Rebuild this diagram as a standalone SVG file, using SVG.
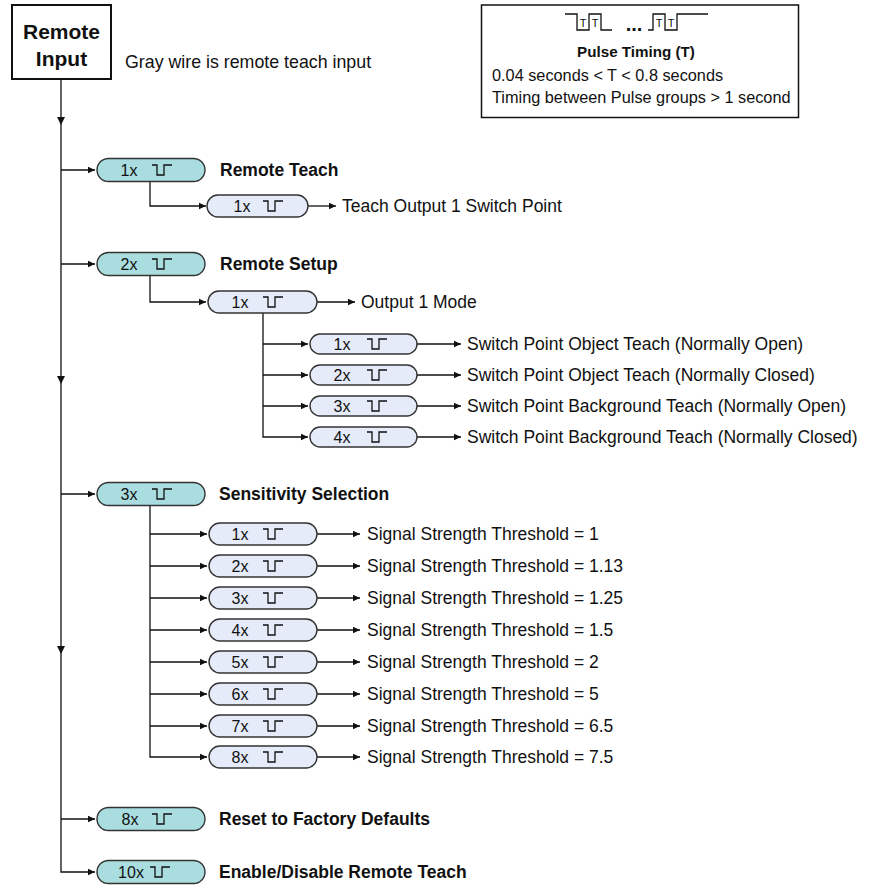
<svg xmlns="http://www.w3.org/2000/svg" width="871" height="886" viewBox="0 0 871 886">
<style>
text{font-family:"Liberation Sans",Arial,sans-serif;fill:#111}
.t{font-size:17.5px}
.b{font-size:17.5px;font-weight:bold}
.p{font-size:16.3px}
.o{font-size:16px;text-anchor:middle}
.teal{fill:#a9dde0;stroke:#333;stroke-width:1.4}
.lite{fill:#e5ebf8;stroke:#333;stroke-width:1.4}
.w{fill:none;stroke:#111;stroke-width:1.3}
.ln{fill:none;stroke:#111;stroke-width:1.3}
.tt{font-size:11px;text-anchor:middle}
</style>
<defs>
<marker id="ah" markerWidth="8" markerHeight="8" refX="7" refY="4" orient="auto" markerUnits="userSpaceOnUse">
<path d="M0,0.8 L7,4 L0,7.2 Z" fill="#111"/>
</marker>
</defs>

<g id="remote-input">
<rect x="12" y="5" width="99" height="74" fill="#fff" stroke="#111" stroke-width="2"/>
<text x="61.5" y="39" text-anchor="middle" style="font-size:21px;font-weight:bold">Remote</text>
<text x="61.5" y="66" text-anchor="middle" style="font-size:21px;font-weight:bold">Input</text>
</g>
<g id="note"><text class="t" x="125" y="68" style="font-size:17.8px">Gray wire is remote teach input</text></g>

<g id="pulse-timing">
<rect x="481.5" y="5" width="317" height="112.5" fill="#fff" stroke="#111" stroke-width="1.5"/>
<path class="w" d="M565,14 H577 V30 H589 V14 H601 V30 H612 M648,30 H653 V14 H665 V30 H677 V14 H708"/>
<text class="tt" x="583" y="27">T</text>
<text class="tt" x="595" y="27">T</text>
<text class="tt" x="659" y="27">T</text>
<text class="tt" x="671" y="27">T</text>
<text x="634" y="31" style="font-size:20px;font-weight:bold;text-anchor:middle">...</text>
<text x="636" y="57" text-anchor="middle" style="font-size:15.2px;font-weight:bold">Pulse Timing (T)</text>
<text class="p" x="492" y="81">0.04 seconds &lt; T &lt; 0.8 seconds</text>
<text class="p" x="492" y="103">Timing between Pulse groups &gt; 1 second</text>
</g>

<g id="connectors">
<path class="ln" d="M61,79 V872 H95" marker-end="url(#ah)"/>
<path d="M57,117 L65,117 L61,125 Z M57,376 L65,376 L61,384 Z M57,646 L65,646 L61,654 Z" fill="#111"/>
<path class="ln" d="M61,170 H95" marker-end="url(#ah)"/>
<path class="ln" d="M61,264 H95" marker-end="url(#ah)"/>
<path class="ln" d="M61,494 H95" marker-end="url(#ah)"/>
<path class="ln" d="M61,819 H95" marker-end="url(#ah)"/>
<path class="ln" d="M150,181.5 V206 H206" marker-end="url(#ah)"/>
<path class="ln" d="M308,206 H336" marker-end="url(#ah)"/>
<path class="ln" d="M150,275.5 V302 H206" marker-end="url(#ah)"/>
<path class="ln" d="M317,302 H355" marker-end="url(#ah)"/>
<path class="ln" d="M263,313 V437 H308" marker-end="url(#ah)"/>
<path class="ln" d="M263,344 H308" marker-end="url(#ah)"/>
<path class="ln" d="M263,375 H308" marker-end="url(#ah)"/>
<path class="ln" d="M263,406 H308" marker-end="url(#ah)"/>
<path class="ln" d="M417,344 H461" marker-end="url(#ah)"/>
<path class="ln" d="M417,375 H461" marker-end="url(#ah)"/>
<path class="ln" d="M417,406 H461" marker-end="url(#ah)"/>
<path class="ln" d="M417,437 H461" marker-end="url(#ah)"/>
<path class="ln" d="M150,505.5 V757 H207" marker-end="url(#ah)"/>
<path class="ln" d="M150,534 H207" marker-end="url(#ah)"/>
<path class="ln" d="M150,566 H207" marker-end="url(#ah)"/>
<path class="ln" d="M150,598 H207" marker-end="url(#ah)"/>
<path class="ln" d="M150,630 H207" marker-end="url(#ah)"/>
<path class="ln" d="M150,662 H207" marker-end="url(#ah)"/>
<path class="ln" d="M150,694 H207" marker-end="url(#ah)"/>
<path class="ln" d="M150,726 H207" marker-end="url(#ah)"/>
<path class="ln" d="M317,534 H360" marker-end="url(#ah)"/>
<path class="ln" d="M317,566 H360" marker-end="url(#ah)"/>
<path class="ln" d="M317,598 H360" marker-end="url(#ah)"/>
<path class="ln" d="M317,630 H360" marker-end="url(#ah)"/>
<path class="ln" d="M317,662 H360" marker-end="url(#ah)"/>
<path class="ln" d="M317,694 H360" marker-end="url(#ah)"/>
<path class="ln" d="M317,726 H360" marker-end="url(#ah)"/>
<path class="ln" d="M317,757 H360" marker-end="url(#ah)"/>
</g>

<g id="remote-teach">
<rect class="teal" x="97" y="158.5" width="108" height="23" rx="11.5"/>
<text class="o" x="129" y="176">1x</text>
<path class="w" d="M152,165 h5 v10 h7 v-10 h8"/>
<text class="b" x="220" y="176">Remote Teach</text>
</g>
<g id="teach-output">
<rect class="lite" x="207" y="195" width="101" height="22" rx="11"/>
<text class="o" x="242" y="212">1x</text>
<path class="w" d="M263,201 h5 v10 h7 v-10 h8"/>
<text class="t" x="342" y="212">Teach Output 1 Switch Point</text>
</g>

<g id="remote-setup">
<rect class="teal" x="97" y="252.5" width="108" height="23" rx="11.5"/>
<text class="o" x="129" y="270">2x</text>
<path class="w" d="M152,259 h5 v10 h7 v-10 h8"/>
<text class="b" x="220" y="270">Remote Setup</text>
</g>
<g id="output-mode">
<rect class="lite" x="208" y="291" width="109" height="22" rx="11"/>
<text class="o" x="240" y="308">1x</text>
<path class="w" d="M263,297 h5 v10 h7 v-10 h8"/>
<text class="t" x="361" y="308">Output 1 Mode</text>
</g>

<g id="sp1">
<rect class="lite" x="310" y="334" width="107" height="20" rx="10"/>
<text class="o" x="342" y="350">1x</text>
<path class="w" d="M367,339 h5 v10 h7 v-10 h8"/>
<text class="t" x="467" y="350">Switch Point Object Teach (Normally Open)</text>
</g>
<g id="sp2">
<rect class="lite" x="310" y="365" width="107" height="20" rx="10"/>
<text class="o" x="342" y="381">2x</text>
<path class="w" d="M367,370 h5 v10 h7 v-10 h8"/>
<text class="t" x="467" y="381">Switch Point Object Teach (Normally Closed)</text>
</g>
<g id="sp3">
<rect class="lite" x="310" y="396" width="107" height="20" rx="10"/>
<text class="o" x="342" y="412">3x</text>
<path class="w" d="M367,401 h5 v10 h7 v-10 h8"/>
<text class="t" x="467" y="412">Switch Point Background Teach (Normally Open)</text>
</g>
<g id="sp4">
<rect class="lite" x="310" y="427" width="107" height="20" rx="10"/>
<text class="o" x="342" y="443">4x</text>
<path class="w" d="M367,432 h5 v10 h7 v-10 h8"/>
<text class="t" x="467" y="443">Switch Point Background Teach (Normally Closed)</text>
</g>

<g id="sensitivity">
<rect class="teal" x="97" y="482.5" width="108" height="23" rx="11.5"/>
<text class="o" x="129" y="500">3x</text>
<path class="w" d="M152,489 h5 v10 h7 v-10 h8"/>
<text class="b" x="219" y="500">Sensitivity Selection</text>
</g>
<g id="ss1"><rect class="lite" x="209" y="523" width="108" height="22" rx="11"/><text class="o" x="240" y="540">1x</text><path class="w" d="M263,529 h5 v10 h7 v-10 h8"/><text class="t" x="367" y="540">Signal Strength Threshold = 1</text></g>
<g id="ss2"><rect class="lite" x="209" y="555" width="108" height="22" rx="11"/><text class="o" x="240" y="572">2x</text><path class="w" d="M263,561 h5 v10 h7 v-10 h8"/><text class="t" x="367" y="572">Signal Strength Threshold = 1.13</text></g>
<g id="ss3"><rect class="lite" x="209" y="587" width="108" height="22" rx="11"/><text class="o" x="240" y="604">3x</text><path class="w" d="M263,593 h5 v10 h7 v-10 h8"/><text class="t" x="367" y="604">Signal Strength Threshold = 1.25</text></g>
<g id="ss4"><rect class="lite" x="209" y="619" width="108" height="22" rx="11"/><text class="o" x="240" y="636">4x</text><path class="w" d="M263,625 h5 v10 h7 v-10 h8"/><text class="t" x="367" y="636">Signal Strength Threshold = 1.5</text></g>
<g id="ss5"><rect class="lite" x="209" y="651" width="108" height="22" rx="11"/><text class="o" x="240" y="668">5x</text><path class="w" d="M263,657 h5 v10 h7 v-10 h8"/><text class="t" x="367" y="668">Signal Strength Threshold = 2</text></g>
<g id="ss6"><rect class="lite" x="209" y="683" width="108" height="22" rx="11"/><text class="o" x="240" y="700">6x</text><path class="w" d="M263,689 h5 v10 h7 v-10 h8"/><text class="t" x="367" y="700">Signal Strength Threshold = 5</text></g>
<g id="ss7"><rect class="lite" x="209" y="715" width="108" height="22" rx="11"/><text class="o" x="240" y="732">7x</text><path class="w" d="M263,721 h5 v10 h7 v-10 h8"/><text class="t" x="367" y="732">Signal Strength Threshold = 6.5</text></g>
<g id="ss8"><rect class="lite" x="209" y="746" width="108" height="22" rx="11"/><text class="o" x="240" y="763">8x</text><path class="w" d="M263,752 h5 v10 h7 v-10 h8"/><text class="t" x="367" y="763">Signal Strength Threshold = 7.5</text></g>

<g id="reset">
<rect class="teal" x="97" y="807.5" width="108" height="23" rx="11.5"/>
<text class="o" x="130" y="825">8x</text>
<path class="w" d="M152,814 h5 v10 h7 v-10 h8"/>
<text class="b" x="219" y="825">Reset to Factory Defaults</text>
</g>
<g id="enable">
<rect class="teal" x="97" y="860.5" width="108" height="23" rx="11.5"/>
<text class="o" x="131" y="878">10x</text>
<path class="w" d="M150,867 h5 v10 h7 v-10 h8"/>
<text class="b" x="219" y="878">Enable/Disable Remote Teach</text>
</g>
</svg>
